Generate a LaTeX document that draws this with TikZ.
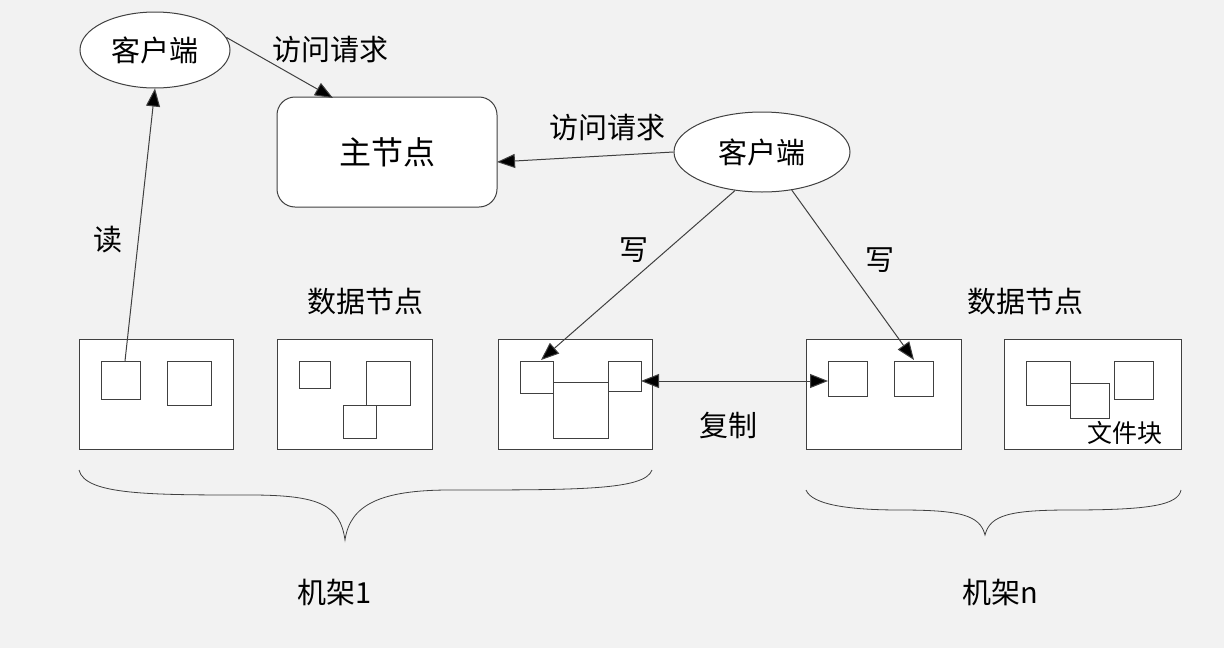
\documentclass[tikz,border=0pt]{standalone}
\usepackage{fontspec}
\newfontfamily\cjk{Noto Sans CJK SC}
\usetikzlibrary{shapes.geometric,arrows.meta}
\begin{document}
\begin{tikzpicture}[x=1pt,y=-1pt,
  lab/.style={font=\cjk\fontsize{29}{29}\selectfont,inner sep=0},
  ln/.style={draw=black!75,line width=1pt},
  tip/.style={Triangle[length=18pt,width=14pt,fill=black]},
  arr/.style={ln,-{Triangle[length=18pt,width=14pt,fill=black]}},
  box/.style={ln,fill=white}]
\fill[black!5] (0,0) rectangle (1224,648);
\useasboundingbox (0,0) rectangle (1224,648);
% clients and master
\node[ellipse,ln,fill=white,minimum width=150,minimum height=76,lab] (c1) at (155,50) {客户端};
\node[ellipse,ln,fill=white,minimum width=176,minimum height=80,lab] (c2) at (762,152) {客户端};
\node[ln,fill=white,rounded corners=18,minimum width=220,minimum height=110,lab,font=\cjk\fontsize{32}{32}\selectfont] (m) at (387,152) {主节点};
% data boxes
\draw[box] (79,339) rectangle (233,449);
\draw[box] (277,339) rectangle (432,449);
\draw[box] (498,339) rectangle (652,449);
\draw[box] (806,339) rectangle (961,449);
\draw[box] (1004,339) rectangle (1181,449);
% blocks
\draw[ln] (101,361) rectangle (140,399) (167,361) rectangle (211,405);
\draw[ln] (299,361) rectangle (330,388) (366,361) rectangle (410,405) (343,405) rectangle (376,438);
\draw[ln] (520,361) rectangle (553,393) (553,382) rectangle (608,438) (608,361) rectangle (641,391);
\draw[ln] (828,361) rectangle (867,396) (894,361) rectangle (933,396);
\draw[ln] (1026,361) rectangle (1070,405) (1070,383) rectangle (1109,418) (1114,361) rectangle (1153,399);
\node[lab,font=\cjk\fontsize{25}{25}\selectfont] (wjk) at (1125,433) {文件块};
% coordinates for arrows
\coordinate (r1) at (125,361);
\coordinate (w1) at (541,360);
\coordinate (w2) at (914,360);
\coordinate (d1) at (641,381);
\coordinate (d2) at (828,381);
\coordinate (m1) at (333,98);
\coordinate (me) at (497,162);
\draw[arr] (r1) -- (c1.south);
\draw[arr] (c1.10) -- (m1);
\draw[arr] (c2.west) -- (me);
\draw[arr] (c2.235) -- (w1);
\draw[arr] (c2.308) -- (w2);
\draw[ln,{Triangle[length=18pt,width=14pt,fill=black]}-{Triangle[length=18pt,width=14pt,fill=black]}] (d1) -- (d2);
% labels
\node[lab] (l1) at (330,50) {访问请求};
\node[lab] (l2) at (607,128) {访问请求};
\node[lab] (l3) at (108,240) {读};
\node[lab] (l4) at (634,250) {写};
\node[lab] (l5) at (880,260) {写};
\node[lab] (l6) at (365,302) {数据节点};
\node[lab] (l7) at (1025,302) {数据节点};
\node[lab] (l8) at (728,425) {复制};
\node[lab] (l9) at (335,592) {机架1};
\node[lab] (l10) at (1000,592) {机架n};
% braces
\draw[ln,line width=0.8pt] (79,470) .. controls (85,495) and (150,495) .. (250,495)
  .. controls (320,495) and (340,505) .. (345,540)
  .. controls (350,505) and (380,490) .. (450,490)
  .. controls (580,490) and (645,490) .. (652,470);
\draw[ln,line width=0.8pt] (806,490) .. controls (812,505) and (850,510) .. (900,510)
  .. controls (960,510) and (980,515) .. (985,535)
  .. controls (990,515) and (1010,510) .. (1070,510)
  .. controls (1150,510) and (1178,505) .. (1181,490);
\end{tikzpicture}
\end{document}
